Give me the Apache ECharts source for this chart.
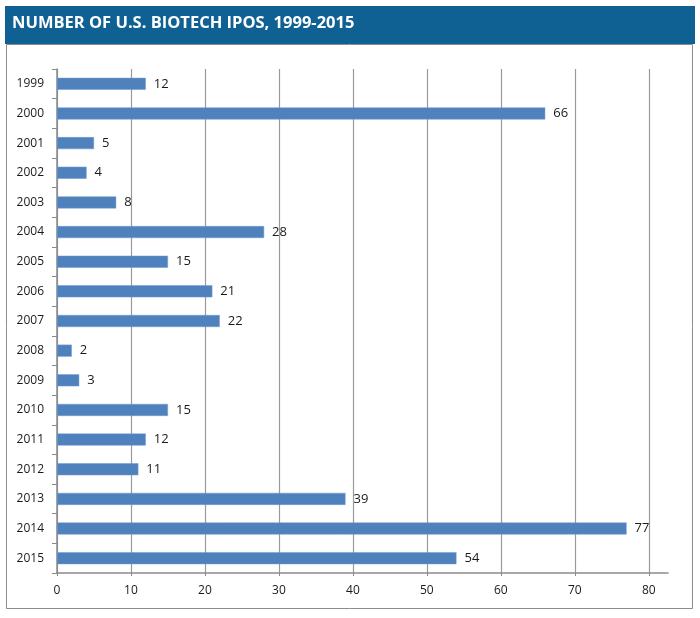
<!DOCTYPE html>
<html>
<head>
<meta charset="utf-8">
<script src="https://cdn.jsdelivr.net/npm/echarts@6/dist/echarts.min.js"></script>
<style>
html,body{margin:0;padding:0;background:#fff;}
#c{width:700px;height:618px;}
</style>
</head>
<body>
<div id="c"></div>
<script>
var titleText = 'NUMBER OF U.S. BIOTECH IPOS, 1999-2015';
var years = ['1999','2000','2001','2002','2003','2004','2005','2006','2007','2008','2009','2010','2011','2012','2013','2014','2015'];
var ipos = [12,66,5,4,8,28,15,21,22,2,3,15,12,11,39,77,54];
var xTicks = [0,10,20,30,40,50,60,70,80];

var chart = echarts.init(document.getElementById('c'), null, {renderer:'canvas'});
var font = '"Open Sans", "Liberation Sans", sans-serif';
chart.setOption({
  animation:false,
  backgroundColor:'#ffffff',
  graphic:[
    {type:'rect', shape:{x:6.5, y:44.5, width:686, height:564}, style:{fill:'none', stroke:'#8c8c8c', lineWidth:1}, silent:true, z:0},
    {type:'rect', shape:{x:5, y:6, width:690, height:38}, style:{fill:'#0f6193'}, silent:true, z:1},
    {type:'text', x:12, y:15, style:{text:titleText, fill:'#ffffff', font:'bold 16.5px ' + font}, silent:true, z:2}
  ],
  grid:{left:57, right:32, top:69, bottom:45, containLabel:false},
  xAxis:{
    type:'value', min:0, max:82.6, interval:10,
    axisLine:{show:true, lineStyle:{color:'#8a8a8a', width:1.5}},
    axisTick:{show:true, length:3, lineStyle:{color:'#8a8a8a'}},
    axisLabel:{
      color:'#1a1a1a', fontSize:12, fontFamily:font, margin:12,
      showMaxLabel:false,
      formatter:function(v){ return xTicks.indexOf(v) >= 0 ? String(v) : ''; }
    },
    splitLine:{show:true, showMaxLine:false, lineStyle:{color:'#9a9a9a', width:1.2}}
  },
  yAxis:{
    type:'category', data:years, inverse:true,
    axisLine:{show:true, lineStyle:{color:'#8a8a8a', width:1.5}},
    axisTick:{show:true, length:5, alignWithLabel:false, lineStyle:{color:'#8a8a8a'}},
    axisLabel:{color:'#1a1a1a', fontSize:12, fontFamily:font, margin:13}
  },
  series:[{
    type:'bar', data:ipos, barWidth:12,
    itemStyle:{color:'#4f81bd', borderColor:'#6f9bd0', borderWidth:0.5},
    label:{show:true, position:'right', distance:8, color:'#1a1a1a', fontSize:13, fontFamily:font}
  }]
});
</script>
</body>
</html>
